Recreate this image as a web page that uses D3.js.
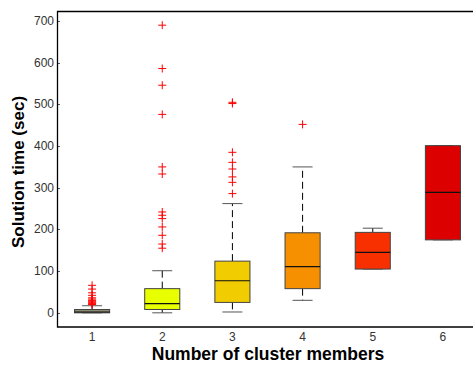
<!DOCTYPE html>
<html>
<head>
<meta charset="utf-8">
<script src="https://cdn.jsdelivr.net/npm/d3@7"></script>
<style>
  body { margin: 0; background: #fff; }
  svg { display: block; }
</style>
</head>
<body>
<svg id="chart" width="473" height="365"></svg>
<script>
// cluster sizes and box statistics (seconds)
const clusters = [1, 2, 3, 4, 5, 6];
const whiskerLo = [0, 0, 2, 30, 105, 175];
const q1 = [0, 8, 25, 58, 105, 175];
const median = [2, 22, 77, 111, 145, 289];
const q3 = [8, 58, 124, 192, 193, 401];
const whiskerHi = [17, 101, 262, 350, 203, 401];
const outliers = [
  [20, 22, 24, 26, 28, 30, 33, 36, 42, 48, 57, 66],
  [155, 165, 186, 206, 226, 234, 242, 333, 350, 476, 546, 586, 690],
  [286, 313, 326, 345, 361, 385, 502, 505],
  [452],
  [],
  []
];
const colors = ['#8c8a70', '#e8ff00', '#f0cc00', '#f79000', '#f83000', '#dd0000'];
const yTicks = [0, 100, 200, 300, 400, 500, 600, 700];

const svg = d3.select('#chart');
const mLeft = 57, mTop = 11, mBottom = 327, mRight = 478;

const x = d3.scaleLinear().domain([0.5, 6.5]).range([mLeft, mRight]);
const y = d3.scaleLinear().domain([-34, 724]).range([mBottom, mTop]);
const boxW = x(1.25) - x(1);
const capW = 10;

// y ticks (inward) and labels
const yAxis = svg.append('g');
yAxis.selectAll('line')
  .data(yTicks)
  .join('line')
  .attr('x1', mLeft).attr('x2', mLeft + 3)
  .attr('y1', d => Math.round(y(d)) + 0.5).attr('y2', d => Math.round(y(d)) + 0.5)
  .attr('stroke', '#555');
yAxis.selectAll('text')
  .data(yTicks)
  .join('text')
  .attr('x', mLeft - 3)
  .attr('y', d => y(d) + 4)
  .attr('text-anchor', 'end')
  .attr('font-family', 'Liberation Sans, Arial, sans-serif')
  .attr('font-size', 12)
  .attr('fill', '#333')
  .text(d => d);

// x labels
svg.append('g').selectAll('text')
  .data(clusters)
  .join('text')
  .attr('x', d => x(d))
  .attr('y', 341)
  .attr('text-anchor', 'middle')
  .attr('font-family', 'Liberation Sans, Arial, sans-serif')
  .attr('font-size', 12)
  .attr('fill', '#333')
  .text(d => d);

// boxes
const g = svg.append('g');
clusters.forEach((c, i) => {
  const cx = x(c);
  // whiskers
  g.append('line')
    .attr('x1', cx).attr('x2', cx)
    .attr('y1', y(q3[i])).attr('y2', y(whiskerHi[i]))
    .attr('stroke', '#000').attr('stroke-dasharray', '7,4');
  g.append('line')
    .attr('x1', cx).attr('x2', cx)
    .attr('y1', y(q1[i])).attr('y2', y(whiskerLo[i]))
    .attr('stroke', '#000').attr('stroke-dasharray', '7,4');
  [whiskerHi[i], whiskerLo[i]].forEach(v => {
    g.append('line')
      .attr('x1', cx - capW).attr('x2', cx + capW)
      .attr('y1', y(v)).attr('y2', y(v))
      .attr('stroke', '#555');
  });
  g.append('rect')
    .attr('x', cx - boxW).attr('width', boxW * 2)
    .attr('y', y(q3[i])).attr('height', Math.max(y(q1[i]) - y(q3[i]), 1))
    .attr('fill', colors[i])
    .attr('stroke', '#444');
  g.append('line')
    .attr('x1', cx - boxW).attr('x2', cx + boxW)
    .attr('y1', y(median[i])).attr('y2', y(median[i]))
    .attr('stroke', '#111').attr('stroke-width', 1.2);
  // outliers
  g.selectAll(null)
    .data(outliers[i])
    .join('path')
    .attr('d', d => `M${cx - 4},${y(d)}H${cx + 4}M${cx},${y(d) - 4}V${y(d) + 4}`)
    .attr('stroke', '#ff0000')
    .attr('stroke-width', 1);
});

// frame: left, top, bottom lines
svg.append('path')
  .attr('d', `M${mLeft + 0.5},${mTop}V${mBottom}H${473}M${mLeft},${mTop + 0.5}H${473}`)
  .attr('fill', 'none')
  .attr('stroke', '#000')
  .attr('stroke-width', 1.3);

// axis titles
svg.append('text')
  .attr('x', 268).attr('y', 360)
  .attr('text-anchor', 'middle')
  .attr('font-family', 'Liberation Sans, Arial, sans-serif')
  .attr('font-weight', 'bold')
  .attr('font-size', 17.5)
  .text('Number of cluster members');
svg.append('text')
  .attr('transform', 'translate(24,172) rotate(-90)')
  .attr('text-anchor', 'middle')
  .attr('font-family', 'Liberation Sans, Arial, sans-serif')
  .attr('font-weight', 'bold')
  .attr('font-size', 17)
  .text('Solution time (sec)');
</script>
</body>
</html>
